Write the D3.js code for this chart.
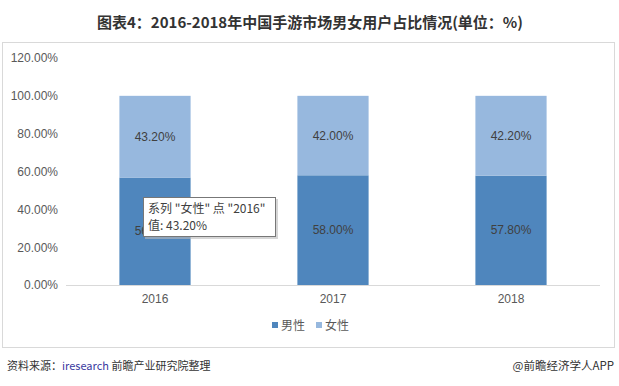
<!DOCTYPE html>
<html>
<head>
<meta charset="utf-8">
<script src="https://cdn.jsdelivr.net/npm/d3@7"></script>
<style>
  body { margin: 0; background: #fff; }
  text { font-family: "Liberation Sans", "Noto Sans CJK SC", sans-serif; }
</style>
</head>
<body>
<svg id="chart" width="619" height="386"></svg>
<script>
const years = ["2016", "2017", "2018"];
const male = [56.8, 58.0, 57.8];
const female = [43.2, 42.0, 42.2];
const seriesNames = ["男性", "女性"];
const yTicks = [0, 20, 40, 60, 80, 100, 120];

const colors = { "男性": "#4f86bd", "女性": "#97b8de" };
const margin = { left: 66, right: 19, top: 58, bottom: 101 };
const width = 619, height = 386;

const svg = d3.select("#chart");
const cjk = "'Noto Sans CJK SC', sans-serif";

// title
svg.append("text")
  .attr("x", 310).attr("y", 28)
  .attr("text-anchor", "middle")
  .style("font-family", cjk)
  .style("font-size", "15px").style("font-weight", "bold")
  .attr("fill", "#333")
  .text("图表4：2016-2018年中国手游市场男女用户占比情况(单位：%)");

// frame
svg.append("rect")
  .attr("x", 2.5).attr("y", 42.5).attr("width", 612).attr("height", 305)
  .attr("fill", "none").attr("stroke", "#d9d9d9");

const x = d3.scaleBand().domain(years)
  .range([margin.left, width - margin.right]).paddingInner(0.6).paddingOuter(0.3);
const y = d3.scaleLinear().domain([0, 120])
  .range([height - margin.bottom, margin.top]);

const rows = years.map((yr, i) => ({ year: yr, "男性": male[i], "女性": female[i] }));
const stack = d3.stack().keys(seriesNames)(rows);

const g = svg.append("g");

// y axis labels
g.append("g")
  .attr("transform", "translate(" + (margin.left - 4) + ",0)")
  .call(d3.axisLeft(y).tickValues(yTicks).tickSize(0).tickPadding(4)
    .tickFormat(d => d.toFixed(2) + "%"))
  .call(a => a.select(".domain").remove())
  .call(a => a.selectAll("text").attr("fill", "#595959").style("font-size", "12px"));

stack.forEach(s => {
  g.append("g").selectAll("rect")
    .data(s).join("rect")
    .attr("x", d => x(d.data.year))
    .attr("width", x.bandwidth())
    .attr("y", d => y(d[1]))
    .attr("height", d => y(d[0]) - y(d[1]))
    .attr("fill", colors[s.key]);

  g.append("g").selectAll("text")
    .data(s).join("text")
    .attr("x", d => x(d.data.year) + x.bandwidth() / 2)
    .attr("y", d => (y(d[0]) + y(d[1])) / 2 + 4)
    .attr("text-anchor", "middle")
    .attr("fill", "#404040")
    .style("font-size", "12px")
    .text(d => (d[1] - d[0]).toFixed(2) + "%");
});

// x axis
g.append("g")
  .attr("transform", "translate(0," + y(0) + ")")
  .call(d3.axisBottom(x).tickSize(0).tickPadding(9))
  .call(a => a.select(".domain").attr("stroke", "#d9d9d9").attr("d", "M" + margin.left + ",0.5H" + (width - margin.right)))
  .call(a => a.selectAll("text").attr("fill", "#595959").style("font-size", "12px"));

// legend
const legend = svg.append("g").attr("transform", "translate(272,326)");
seriesNames.forEach((name, i) => {
  const lg = legend.append("g").attr("transform", "translate(" + (i * 44) + ",0)");
  lg.append("rect").attr("x", 0).attr("y", -4).attr("width", 6).attr("height", 6)
    .attr("fill", colors[name]);
  lg.append("text").attr("x", 9).attr("y", 4)
    .style("font-family", cjk).style("font-size", "12px")
    .attr("fill", "#595959").text(name);
});

// tooltip (covers most of the 2016 male label, as in the source)
const tip = svg.append("g").attr("transform", "translate(143,197)");
tip.append("rect").attr("x", 2).attr("y", 2).attr("width", 133).attr("height", 40)
  .attr("fill", "#bbb").attr("opacity", 0.6);
tip.append("rect").attr("x", 0.5).attr("y", 0.5).attr("width", 132).attr("height", 39)
  .attr("fill", "#fff").attr("stroke", "#777");
tip.append("text").attr("x", 5).attr("y", 16)
  .style("font-family", cjk).style("font-size", "12px").attr("fill", "#404040")
  .text("系列 \"女性\" 点 \"" + years[0] + "\"");
tip.append("text").attr("x", 5).attr("y", 33)
  .style("font-family", cjk).style("font-size", "12px").attr("fill", "#404040")
  .text("值: " + female[0].toFixed(2) + "%");

// footer
const foot = svg.append("text").attr("x", 7).attr("y", 370)
  .style("font-family", cjk).style("font-size", "11px").attr("fill", "#333");
foot.append("tspan").text("资料来源：");
foot.append("tspan").attr("fill", "#3a3aa0").text("iresearch");
foot.append("tspan").text(" 前瞻产业研究院整理");

svg.append("text").attr("x", 614).attr("y", 370).attr("text-anchor", "end")
  .style("font-family", cjk).style("font-size", "11.5px").attr("fill", "#333")
  .text("@前瞻经济学人APP");
</script>
</body>
</html>
